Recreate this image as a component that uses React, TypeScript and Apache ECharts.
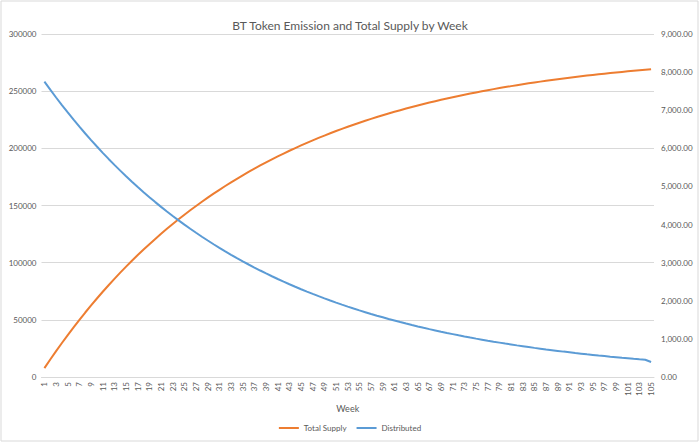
import React, { useEffect, useRef } from "react";
import * as echarts from "echarts";

const weeks: string[] = Array.from({ length: 105 }, (_, i) => String(i + 1));

const distributed: number[] = [
  7750, 7539, 7334, 7135, 6941, 6752, 6568, 6389, 6216, 6047,
  5882, 5722, 5566, 5415, 5268, 5124, 4985, 4849, 4718, 4589,
  4464, 4343, 4225, 4110, 3998, 3890, 3784, 3681, 3581, 3483,
  3389, 3296, 3207, 3120, 3035, 2952, 2872, 2794, 2718, 2644,
  2572, 2502, 2434, 2368, 2303, 2241, 2180, 2121, 2063, 2007,
  1952, 1899, 1847, 1797, 1748, 1701, 1654, 1609, 1566, 1523,
  1482, 1441, 1402, 1364, 1327, 1291, 1256, 1222, 1188, 1156,
  1125, 1094, 1064, 1035, 1007, 980, 953, 927, 902, 877,
  854, 830, 808, 786, 764, 744, 723, 704, 685, 666,
  648, 630, 613, 596, 580, 564, 549, 534, 520, 505,
  492, 478, 465, 453, 394,
];

const totalSupply: number[] = [
  7750, 15289, 22623, 29758, 36699, 43451, 50019, 56408, 62624, 68671,
  74553, 80275, 85841, 91256, 96524, 101648, 106633, 111482, 116200, 120789,
  125253, 129596, 133821, 137931, 141929, 145819, 149603, 153284, 156865, 160348,
  163737, 167033, 170240, 173360, 176395, 179347, 182219, 185013, 187731, 190375,
  192947, 195449, 197883, 200251, 202554, 204795, 206975, 209096, 211159, 213166,
  215118, 217017, 218864, 220661, 222409, 224110, 225764, 227373, 228939, 230462,
  231944, 233385, 234787, 236151, 237478, 238769, 240025, 241247, 242435, 243591,
  244716, 245810, 246874, 247909, 248916, 249896, 250849, 251776, 252678, 253555,
  254409, 255239, 256047, 256833, 257597, 258341, 259064, 259768, 260453, 261119,
  261767, 262397, 263010, 263606, 264186, 264750, 265299, 265833, 266353, 266858,
  267350, 267828, 268293, 268746, 269140,
];

const FONT = "Lato, 'Liberation Sans', sans-serif";
const TXT = "#595959";

export default function App() {
  const ref = useRef<HTMLDivElement>(null);
  useEffect(() => {
    document.body.style.margin = "0";
    const chart = echarts.init(ref.current!, null, { renderer: "svg" });
    chart.setOption({
      animation: false,
      backgroundColor: "#ffffff",
      textStyle: { fontFamily: FONT },
      title: {
        text: "BT Token Emission and Total Supply by Week",
        left: "center",
        top: 14,
        textStyle: { fontFamily: FONT, fontSize: 12, fontWeight: "normal", color: TXT },
      },
      graphic: [
        {
          type: "rect",
          shape: { x: 1, y: 1, width: 697, height: 440 },
          style: { fill: "none", stroke: "#d9d9d9", lineWidth: 1 },
          silent: true,
        },
      ],
      legend: {
        bottom: 6,
        left: "center",
        itemWidth: 20,
        itemHeight: 2,
        itemGap: 10,
        icon: "rect",
        textStyle: { fontFamily: FONT, fontSize: 8, color: TXT },
        data: ["Total Supply", "Distributed"],
      },
      grid: { left: 41.5, right: 46, top: 34, bottom: 66, containLabel: false },
      xAxis: {
        type: "category",
        data: weeks,
        boundaryGap: true,
        name: "Week",
        nameLocation: "middle",
        nameGap: 27,
        nameTextStyle: { fontFamily: FONT, fontSize: 9, color: TXT },
        axisLine: { lineStyle: { color: "#d9d9d9" } },
        axisTick: { show: false },
        axisLabel: {
          interval: 1,
          rotate: 90,
          fontSize: 8,
          color: TXT,
          fontFamily: FONT,
          margin: 5,
        },
        splitLine: { show: false },
      },
      yAxis: [
        {
          type: "value",
          min: 0,
          max: 300000,
          interval: 50000,
          axisLine: { show: false },
          axisTick: { show: false },
          axisLabel: {
            fontSize: 8,
            color: TXT,
            fontFamily: FONT,
            margin: 5,
            formatter: (v: number) => String(v),
          },
          splitLine: { lineStyle: { color: "#d9d9d9", width: 1 } },
        },
        {
          type: "value",
          min: 0,
          max: 9000,
          interval: 1000,
          position: "right",
          axisLine: { show: false },
          axisTick: { show: false },
          axisLabel: {
            fontSize: 8,
            color: TXT,
            fontFamily: FONT,
            margin: 7,
            formatter: (v: number) =>
              v.toLocaleString("en-US", { minimumFractionDigits: 2, maximumFractionDigits: 2 }),
          },
          splitLine: { show: false },
        },
      ],
      series: [
        {
          name: "Total Supply",
          type: "line",
          data: totalSupply,
          yAxisIndex: 0,
          showSymbol: false,
          symbol: "none",
          lineStyle: { color: "#ED7D31", width: 2 },
          itemStyle: { color: "#ED7D31" },
        },
        {
          name: "Distributed",
          type: "line",
          data: distributed,
          yAxisIndex: 1,
          showSymbol: false,
          symbol: "none",
          lineStyle: { color: "#5B9BD5", width: 2 },
          itemStyle: { color: "#5B9BD5" },
        },
      ],
    });
    return () => chart.dispose();
  }, []);
  return <div ref={ref} style={{ width: 700, height: 443 }} />;
}
